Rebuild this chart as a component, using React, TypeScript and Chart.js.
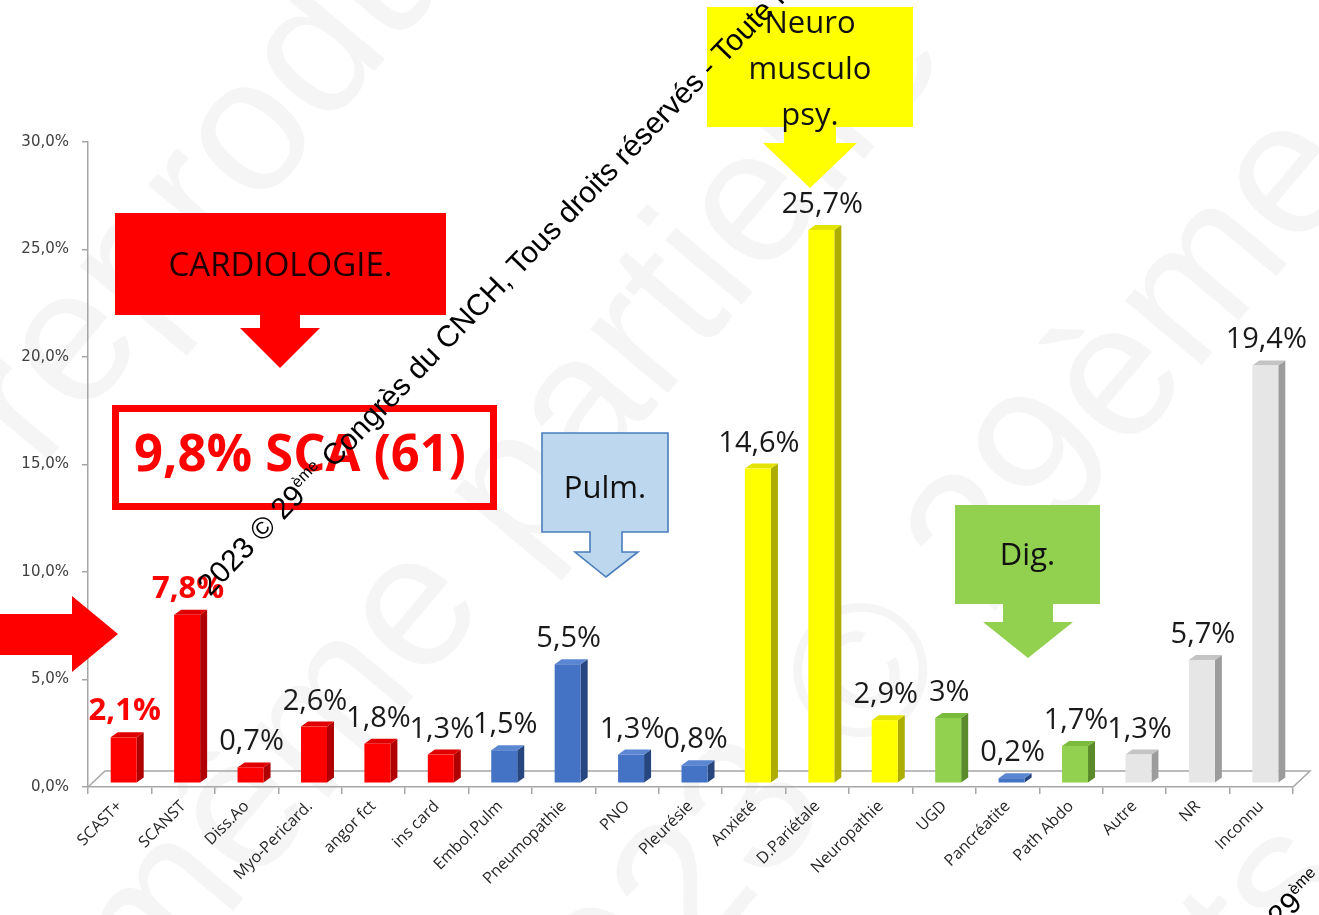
import React, { useEffect, useRef } from 'react';
import { Chart, registerables } from 'chart.js';

Chart.register(...registerables);

// Categories, values and group of each bar
const categories = [
  'SCAST+', 'SCANST', 'Diss.Ao', 'Myo-Pericard.', 'angor fct', 'ins card',
  'Embol.Pulm', 'Pneumopathie', 'PNO', 'Pleurésie',
  'Anxieté', 'D.Pariétale', 'Neuropathie',
  'UGD', 'Pancréatite', 'Path Abdo',
  'Autre', 'NR', 'Inconnu',
];
const values = [2.1, 7.8, 0.7, 2.6, 1.8, 1.3, 1.5, 5.5, 1.3, 0.8, 14.6, 25.7, 2.9, 3, 0.2, 1.7, 1.3, 5.7, 19.4];
const groups = [
  'cardio', 'cardio', 'cardio', 'cardio', 'cardio', 'cardio',
  'pulm', 'pulm', 'pulm', 'pulm',
  'neuro', 'neuro', 'neuro',
  'dig', 'pulm', 'dig',
  'other', 'other', 'other',
];
const highlighted = ['SCAST+', 'SCANST'];
const yTickValues = [0, 5, 10, 15, 20, 25, 30];

const palette: Record<string, { front: string; side: string; top: string }> = {
  cardio: { front: '#ff0000', side: '#b00000', top: '#e00000' },
  pulm: { front: '#4472c4', side: '#27467f', top: '#5b86d2' },
  neuro: { front: '#ffff00', side: '#adad00', top: '#e3e300' },
  dig: { front: '#92d050', side: '#5a8a2a', top: '#7bbb3c' },
  other: { front: '#e6e6e6', side: '#9c9c9c', top: '#c4c4c4' },
};

const pct = (v: number) =>
  Number.isInteger(v) ? `${v}%` : `${v.toFixed(1).replace('.', ',')}%`;

// 3D geometry of the bars and floor
const BAR_W = 26;
const SHIFT_X = 4;
const SHIFT_Y = 4.5;
const DEPTH_X = 7;
const DEPTH_Y = 5;
const FLOOR_DX = 17;
const FLOOR_DY = 16;
const AXIS_GREY = '#a6a6a6';

const poly = (ctx: CanvasRenderingContext2D, pts: number[][], fill: string) => {
  ctx.beginPath();
  ctx.moveTo(pts[0][0], pts[0][1]);
  for (let i = 1; i < pts.length; i++) ctx.lineTo(pts[i][0], pts[i][1]);
  ctx.closePath();
  ctx.fillStyle = fill;
  ctx.fill();
};

const watermarkPlugin = {
  id: 'watermark',
  beforeDraw(chart: any) {
    const ctx: CanvasRenderingContext2D = chart.ctx;
    ctx.save();
    ctx.fillStyle = '#ffffff';
    ctx.fillRect(0, 0, chart.width, chart.height);
    ctx.fillStyle = 'rgba(0,0,0,0.038)';
    ctx.font = '190px "Liberation Sans"';
    ctx.textBaseline = 'alphabetic';
    const lines = [
      { text: 'reproduction', x: 40, y: 470 },
      { text: 'même partielle', x: 150, y: 1010 },
      { text: '2023 © 29ème Congrès', x: 560, y: 1130 },
      { text: 'droits réservés', x: 1060, y: 1240 },
    ];
    for (const l of lines) {
      ctx.save();
      ctx.translate(l.x, l.y);
      ctx.rotate((-50 * Math.PI) / 180);
      ctx.fillText(l.text, 0, 0);
      ctx.restore();
    }
    ctx.restore();
  },
};

const floorPlugin = {
  id: 'floor3d',
  beforeDatasetsDraw(chart: any) {
    const ctx: CanvasRenderingContext2D = chart.ctx;
    const { left, right, bottom } = chart.chartArea;
    ctx.save();
    ctx.strokeStyle = AXIS_GREY;
    ctx.lineWidth = 1.5;
    ctx.beginPath();
    ctx.moveTo(left, bottom);
    ctx.lineTo(left + FLOOR_DX, bottom - FLOOR_DY);
    ctx.lineTo(right + FLOOR_DX, bottom - FLOOR_DY);
    ctx.lineTo(right, bottom);
    ctx.stroke();
    ctx.restore();
  },
};

const bars3dPlugin = {
  id: 'bars3d',
  afterDatasetsDraw(chart: any) {
    const ctx: CanvasRenderingContext2D = chart.ctx;
    const yScale = chart.scales.y;
    const meta = chart.getDatasetMeta(0);
    ctx.save();
    meta.data.forEach((el: any, i: number) => {
      const c = palette[groups[i]];
      const cx = el.x + SHIFT_X;
      const l = cx - BAR_W / 2;
      const r = cx + BAR_W / 2;
      const top = yScale.getPixelForValue(values[i]) - SHIFT_Y;
      const bot = yScale.getPixelForValue(0) - SHIFT_Y;
      // side face
      poly(ctx, [[r, bot], [r + DEPTH_X, bot - DEPTH_Y], [r + DEPTH_X, top - DEPTH_Y], [r, top]], c.side);
      // top face
      poly(ctx, [[l, top], [l + DEPTH_X, top - DEPTH_Y], [r + DEPTH_X, top - DEPTH_Y], [r, top]], c.top);
      // front face
      ctx.fillStyle = c.front;
      ctx.fillRect(l, top, BAR_W, bot - top);

      // value label
      const red = highlighted.includes(categories[i]);
      ctx.fillStyle = red ? '#ff0000' : '#1a1a1a';
      ctx.font = red ? 'bold 31px "Open Sans"' : '29px "Open Sans"';
      ctx.textAlign = 'center';
      ctx.textBaseline = 'alphabetic';
      ctx.fillText(pct(values[i]), cx + 1, top - 17);
    });
    ctx.restore();
  },
};

type Callout = {
  box: [number, number, number, number];
  shaft: [number, number, number];
  head: [number, number, number, number];
  fill: string;
  stroke?: string;
  lines: string[];
  textY: number;
  lineGap: number;
  textColor: string;
  fontSize: number;
};

const callouts: Callout[] = [
  {
    box: [115, 213, 446, 315], shaft: [260, 300, 328], head: [240, 320, 280, 368],
    fill: '#ff0000', lines: ['CARDIOLOGIE.'], textY: 267, lineGap: 0, textColor: '#1e0000', fontSize: 33,
  },
  {
    box: [542, 433, 668, 532], shaft: [590, 622, 552], head: [575, 638, 606, 577],
    fill: '#bdd7ee', stroke: '#4a7ebb', lines: ['Pulm.'], textY: 489, lineGap: 0, textColor: '#111111', fontSize: 31,
  },
  {
    box: [707, 7, 913, 127], shaft: [784, 836, 143], head: [763, 857, 810, 188],
    fill: '#ffff00', lines: ['Neuro', 'musculo', 'psy.'], textY: 24, lineGap: 46, textColor: '#111111', fontSize: 31,
  },
  {
    box: [955, 505, 1100, 604], shaft: [1003, 1053, 622], head: [983, 1073, 1028, 658],
    fill: '#92d050', lines: ['Dig.'], textY: 556, lineGap: 0, textColor: '#111111', fontSize: 31,
  },
];

const drawCallout = (ctx: CanvasRenderingContext2D, c: Callout) => {
  const [bx1, by1, bx2, by2] = c.box;
  const [sx1, sx2, sy] = c.shaft;
  const [hx1, hx2, tx, ty] = c.head;
  ctx.beginPath();
  ctx.moveTo(bx1, by1);
  ctx.lineTo(bx2, by1);
  ctx.lineTo(bx2, by2);
  ctx.lineTo(sx2, by2);
  ctx.lineTo(sx2, sy);
  ctx.lineTo(hx2, sy);
  ctx.lineTo(tx, ty);
  ctx.lineTo(hx1, sy);
  ctx.lineTo(sx1, sy);
  ctx.lineTo(sx1, by2);
  ctx.lineTo(bx1, by2);
  ctx.closePath();
  ctx.fillStyle = c.fill;
  ctx.fill();
  if (c.stroke) {
    ctx.strokeStyle = c.stroke;
    ctx.lineWidth = 1.6;
    ctx.stroke();
  }
  ctx.fillStyle = c.textColor;
  ctx.font = `${c.fontSize}px "Open Sans"`;
  ctx.textAlign = 'center';
  ctx.textBaseline = 'middle';
  const cx = (bx1 + bx2) / 2;
  c.lines.forEach((t, k) => ctx.fillText(t, cx, c.textY + k * c.lineGap));
};

const annotationsPlugin = {
  id: 'annotations',
  afterDraw(chart: any) {
    const ctx: CanvasRenderingContext2D = chart.ctx;
    ctx.save();
    callouts.forEach((c) => drawCallout(ctx, c));

    // acute coronary syndrome summary box
    ctx.strokeStyle = '#ff0000';
    ctx.lineWidth = 7;
    ctx.strokeRect(115.5, 408.5, 378, 98);
    ctx.fillStyle = '#ff0000';
    ctx.font = 'bold 52px "Open Sans"';
    ctx.textAlign = 'center';
    ctx.textBaseline = 'middle';
    ctx.fillText('9,8% SCA (61)', 300, 456, 332);

    // arrow pointing at the first bars
    poly(ctx, [[0, 614], [72, 614], [72, 596], [118, 634], [72, 672], [72, 655], [0, 655]], '#ff0000');

    // copyright line
    const drawCopyright = (x: number, y: number) => {
      ctx.save();
      ctx.translate(x, y);
      ctx.rotate((-46 * Math.PI) / 180);
      ctx.fillStyle = '#000000';
      ctx.textAlign = 'left';
      ctx.textBaseline = 'alphabetic';
      ctx.font = '30px "Liberation Sans"';
      let px = 0;
      const part1 = '2023 © 29';
      ctx.fillText(part1, px, 0);
      px += ctx.measureText(part1).width;
      ctx.font = '16px "Liberation Sans"';
      ctx.fillText('ème', px, -12);
      px += ctx.measureText('ème').width;
      ctx.font = '30px "Liberation Sans"';
      ctx.fillText(' Congrès du CNCH, Tous droits réservés - Toute reproduction même partielle interdite', px, 0);
      ctx.restore();
    };
    drawCopyright(210, 597);
    drawCopyright(1207, 1004);
    ctx.restore();
  },
};

export default function App() {
  const canvasRef = useRef<HTMLCanvasElement | null>(null);

  useEffect(() => {
    let chart: Chart | null = null;
    let cancelled = false;
    const build = () => {
      if (cancelled || !canvasRef.current) return;
      chart = new Chart(canvasRef.current, {
        type: 'bar',
        data: {
          labels: categories,
          datasets: [
            {
              data: values,
              backgroundColor: 'rgba(0,0,0,0)',
              borderWidth: 0,
            },
          ],
        },
        options: {
          responsive: false,
          animation: false,
          events: [],
          layout: { padding: { top: 142, right: 26, left: 0, bottom: 0 } },
          plugins: {
            legend: { display: false },
            tooltip: { enabled: false },
          },
          scales: {
            x: {
              offset: true,
              grid: {
                display: true,
                drawOnChartArea: false,
                drawTicks: true,
                tickLength: 7,
                color: AXIS_GREY,
                lineWidth: 1.5,
                offset: true,
              },
              border: { display: true, color: AXIS_GREY, width: 1.5 },
              ticks: {
                autoSkip: false,
                maxRotation: 45,
                minRotation: 45,
                padding: 3,
                color: '#262626',
                font: { family: '"Open Sans"', size: 16 },
              },
              afterFit: (s: any) => {
                s.height = 128;
              },
            },
            y: {
              min: 0,
              max: 30,
              afterBuildTicks: (s: any) => {
                s.ticks = yTickValues.map((v) => ({ value: v }));
              },
              ticks: {
                color: '#404040',
                padding: 13,
                font: { family: '"DejaVu Sans"', size: 15 },
                callback: (v: any) => `${Number(v).toFixed(1).replace('.', ',')}%`,
              },
              grid: {
                drawOnChartArea: false,
                drawTicks: true,
                tickLength: 6,
                color: AXIS_GREY,
                lineWidth: 1.5,
              },
              border: { display: true, color: AXIS_GREY, width: 1.5 },
              afterFit: (s: any) => {
                s.width = 88;
              },
            },
          },
        },
        plugins: [watermarkPlugin, floorPlugin, bars3dPlugin, annotationsPlugin],
      });
    };
    const fonts = (document as any).fonts;
    if (fonts && fonts.load) {
      Promise.all([
        fonts.load('29px "Open Sans"'),
        fonts.load('bold 29px "Open Sans"'),
        fonts.load('15px "DejaVu Sans"'),
        fonts.load('30px "Liberation Sans"'),
      ])
        .catch(() => undefined)
        .then(build);
    } else {
      build();
    }
    return () => {
      cancelled = true;
      if (chart) chart.destroy();
    };
  }, []);

  return (
    <div style={{ position: 'fixed', left: 0, top: 0, width: 1319, height: 915, background: '#ffffff' }}>
      <canvas ref={canvasRef} width={1319} height={915} style={{ display: 'block' }} />
    </div>
  );
}
